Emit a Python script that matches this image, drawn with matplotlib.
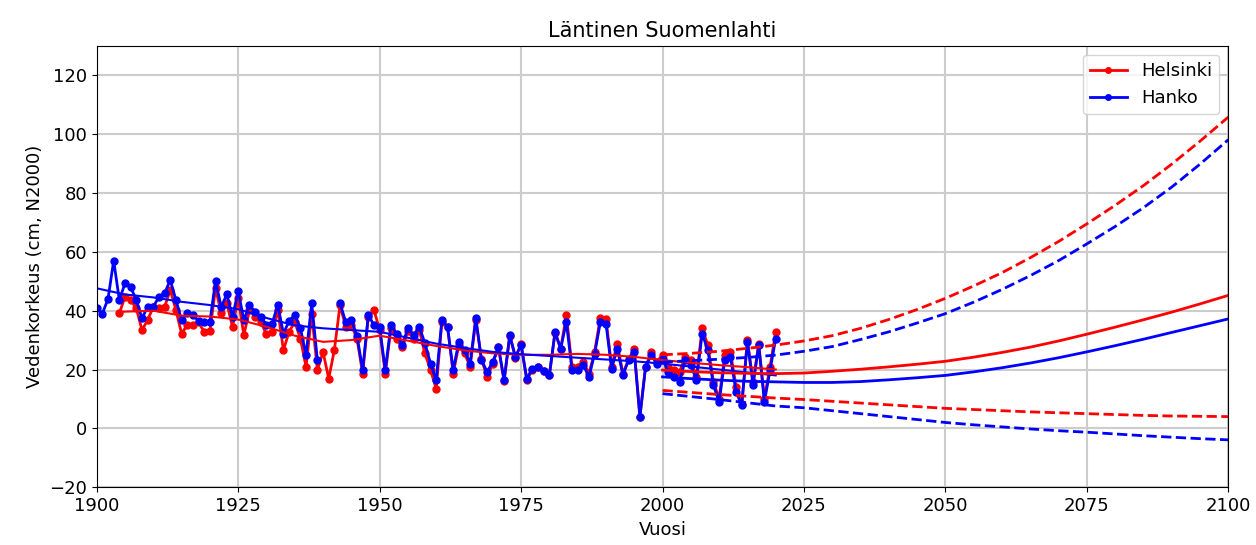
import numpy as np
import matplotlib.pyplot as plt

# vuosikeskiarvot (cm, N2000)
vuodet_hanko = np.arange(1900, 2021)
hanko = [41.0, 39.0, 44.0, 57.0, 43.6, 49.3, 48.0, 43.6, 37.4, 41.3,
         41.3, 44.7, 45.9, 50.4, 43.6, 36.8, 39.1, 38.5, 36.5, 36.2,
         36.2, 50.1, 41.3, 45.5, 37.9, 46.7, 36.8, 41.9, 39.6, 37.9,
         35.1, 35.6, 41.9, 32.2, 36.5, 38.5, 34.0, 24.9, 42.5, 23.2,
         np.nan, np.nan, np.nan, 42.5, 36.2, 36.8, 31.5, 19.8, 38.5, 35.1,
         34.5, 19.8, 35.1, 32.2, 28.3, 34.0, 31.7, 34.5, 29.0, 22.0,
         16.4, 36.8, 34.5, 19.8, 29.4, 26.6, 22.0, 37.6, 23.2, 19.2,
         22.6, 27.7, 16.4, 31.7, 24.3, 28.3, 16.9, 20.3, 20.9, 19.4,
         18.1, 32.8, 27.1, 36.2, 19.8, 19.8, 21.5, 17.5, 25.4, 36.0,
         35.6, 20.3, 27.1, 18.1, 23.2, 26.0, 3.9, 20.9, 24.9, 22.0,
         23.7, 19.2, 17.5, 15.8, 23.2, 21.5, 16.4, 32.2, 26.6, 14.7,
         9.0, 23.2, 24.3, 12.4, 7.8, 29.4, 14.7, 28.3, 9.0, 19.8,
         30.5]

vuodet_hki = np.arange(1904, 2021)
helsinki = [39.1, 44.7, 43.6, 40.8, 33.4, 36.8,
            41.3, 40.8, 41.3, 47.0, 40.2, 32.2, 35.1, 35.1, 36.0, 32.8,
            33.0, 47.6, 39.1, 42.5, 34.5, 44.2, 31.7, 40.2, 37.9, 36.2,
            31.9, 32.8, 40.2, 26.6, 32.8, 36.2, 30.5, 20.9, 39.0, 19.8,
            26.0, 16.9, 26.6, 41.9, 34.5, 35.1, 30.5, 18.6, 37.9, 40.2,
            33.5, 18.6, 34.0, 30.5, 27.5, 33.0, 30.5, 33.5, 25.5, 19.8,
            13.5, 36.2, 34.5, 18.6, 28.3, 25.5, 20.9, 36.8, 23.5, 17.5,
            22.0, 27.5, 16.0, 31.5, 24.0, 28.8, 16.4, 20.0, 21.0, 19.5,
            18.0, 32.5, 27.0, 38.5, 21.0, 21.0, 22.6, 18.6, 26.0, 37.6,
            37.1, 21.0, 28.8, 18.6, 23.5, 26.9, 4.0, 21.0, 25.8, 22.5,
            25.1, 20.9, 19.8, 19.2, 24.3, 23.2, 17.5, 34.0, 28.3, 15.8,
            10.1, 24.9, 26.0, 14.1, 8.4, 30.0, 15.8, 28.8, 10.1, 20.9,
            32.8]

# liukuvat keskiarvot
tasoitus_hanko_v = [1900, 1905, 1910, 1915, 1920, 1925, 1930, 1935, 1940, 1945,
                    1950, 1955, 1960, 1965, 1970, 1975, 1980, 1985, 1990, 1995,
                    2000, 2005, 2010, 2015, 2020]
tasoitus_hanko = [47.6, 45.5, 44.5, 43.0, 41.9, 40.5, 37.5, 35.0, 34.0, 33.4,
                  32.8, 30.8, 28.8, 27.3, 26.0, 25.2, 24.6, 24.0, 23.4, 22.8,
                  22.0, 21.0, 20.0, 19.0, 18.0]
tasoitus_hki_v = [1904, 1910, 1915, 1920, 1925, 1930, 1935, 1940, 1945, 1950,
                  1955, 1960, 1965, 1970, 1975, 1980, 1985, 1990, 1995, 2000,
                  2005, 2010, 2015, 2020]
tasoitus_hki = [39.6, 40.0, 38.3, 38.0, 37.0, 34.5, 31.5, 29.4, 30.0, 31.5,
                29.8, 28.0, 26.5, 25.5, 25.0, 25.0, 25.3, 25.0, 24.3, 23.2,
                22.3, 21.5, 20.8, 20.0]

# skenaariot 2000-2100: mediaani, ylä- ja alaraja
ennuste_v = np.arange(2000, 2101, 5)
hki_med = [19.8, 19.3, 18.9, 18.7, 18.6, 18.8, 19.4, 20.1, 20.9, 21.8,
           22.8, 24.2, 25.8, 27.6, 29.7, 32.0, 34.4, 36.9, 39.5, 42.3, 45.2]
hki_yla = [25.0, 25.5, 26.2, 27.2, 28.3, 29.7, 31.5, 34.0, 37.0, 40.4,
           44.2, 48.4, 52.9, 58.0, 63.5, 69.5, 75.8, 82.5, 89.8, 97.6, 105.8]
hki_ala = [12.9, 12.2, 11.5, 10.9, 10.3, 9.8, 9.2, 8.6, 8.0, 7.4,
           6.8, 6.4, 6.0, 5.6, 5.3, 5.0, 4.7, 4.4, 4.2, 4.1, 4.0]
hanko_med = [17.5, 16.9, 16.4, 16.0, 15.8, 15.6, 15.6, 15.9, 16.5, 17.2,
             18.0, 19.2, 20.6, 22.2, 24.0, 26.0, 28.1, 30.3, 32.6, 34.9, 37.2]
hanko_yla = [22.5, 23.0, 23.5, 24.1, 24.9, 26.2, 27.8, 30.2, 32.8, 35.8,
             39.0, 42.9, 47.2, 51.9, 57.0, 62.7, 68.6, 75.0, 82.0, 89.8, 98.1]
hanko_ala = [11.8, 10.8, 9.8, 8.7, 7.6, 7.0, 6.0, 5.0, 4.0, 3.0,
             2.0, 1.2, 0.5, -0.2, -0.8, -1.3, -1.9, -2.5, -3.0, -3.5, -3.9]

fig, ax = plt.subplots(figsize=(12.56, 5.45), dpi=100)
fig.subplots_adjust(left=0.077, right=0.978, top=0.916, bottom=0.106)

ax.plot(vuodet_hki, helsinki, '.-', color='red', lw=2, ms=10, label='Helsinki')
ax.plot(vuodet_hanko, hanko, '.-', color='blue', lw=2, ms=10, label='Hanko')
ax.plot(tasoitus_hki_v, tasoitus_hki, color='red', lw=1.5)
ax.plot(tasoitus_hanko_v, tasoitus_hanko, color='blue', lw=1.5)

ax.plot(ennuste_v, hki_med, color='red', lw=2)
ax.plot(ennuste_v, hki_yla, '--', color='red', lw=2)
ax.plot(ennuste_v, hki_ala, '--', color='red', lw=2)
ax.plot(ennuste_v, hanko_med, color='blue', lw=2)
ax.plot(ennuste_v, hanko_yla, '--', color='blue', lw=2)
ax.plot(ennuste_v, hanko_ala, '--', color='blue', lw=2)

ax.set_xlim(1900, 2100)
ax.set_ylim(-20, 130)
ax.set_yticks(range(-20, 121, 20))
ax.tick_params(labelsize=13)
ax.set_xlabel('Vuosi', fontsize=13)
ax.set_ylabel('Vedenkorkeus (cm, N2000)', fontsize=13)
ax.set_title('Läntinen Suomenlahti', fontsize=15)
ax.grid(True, color='0.8', lw=1.5)
ax.legend(loc='upper right', fontsize=13, markerscale=0.8)

plt.savefig('out.png')
